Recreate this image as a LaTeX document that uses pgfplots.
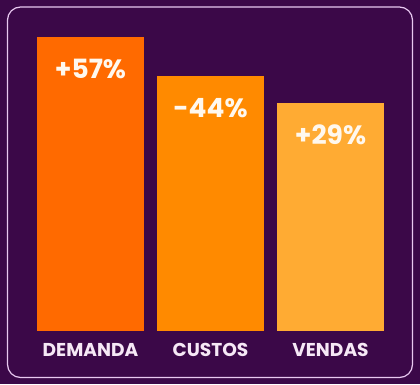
\documentclass[border=0pt]{standalone}
\usepackage{pgfplots}
\pgfplotsset{compat=1.18}
\usepackage{fontspec}
\setmainfont{Poppins}
\definecolor{bg}{HTML}{3B0848}
\definecolor{frame}{HTML}{E8C8F0}
\definecolor{cA}{HTML}{FF6A00}
\definecolor{cB}{HTML}{FF8A00}
\definecolor{cC}{HTML}{FFAB33}
\definecolor{lab}{HTML}{F6E8F6}
\definecolor{val}{HTML}{FFF8EE}
\begin{document}
\begin{tikzpicture}[x=1pt,y=1pt]
\fill[bg] (0,0) rectangle (420,384);
\draw[frame, line width=1.2pt, rounded corners=13pt] (7.5,6.5) rectangle (412.5,377);
\begin{axis}[
  at={(30.5pt,53pt)}, anchor=south west,
  scale only axis, width=360pt, height=300pt,
  xmin=-0.5, xmax=2.5, ymin=0, ymax=300,
  axis line style={draw=none}, major tick length=0pt,
  ytick=\empty, xtick={0,1,2}, xticklabels={DEMANDA,CUSTOS,VENDAS},
  xticklabel style={font=\bfseries\fontsize{18.6}{18.6}\selectfont, text=lab, anchor=base, yshift=-25.5pt, inner sep=0pt},
  ybar, bar width=107pt, bar shift=0pt,
  nodes near coords, point meta=explicit symbolic,
  every node near coord/.append style={font=\bfseries\fontsize{26.5}{26.5}\selectfont, text=val, anchor=base, yshift=-41pt, inner sep=0pt},
  clip=false]
\addplot[fill=cA, draw=none] coordinates {(0,294) [+57\%]};
\addplot[fill=cB, draw=none] coordinates {(1,255) [-44\%]};
\addplot[fill=cC, draw=none] coordinates {(2,228) [+29\%]};
\end{axis}
\end{tikzpicture}
\end{document}
